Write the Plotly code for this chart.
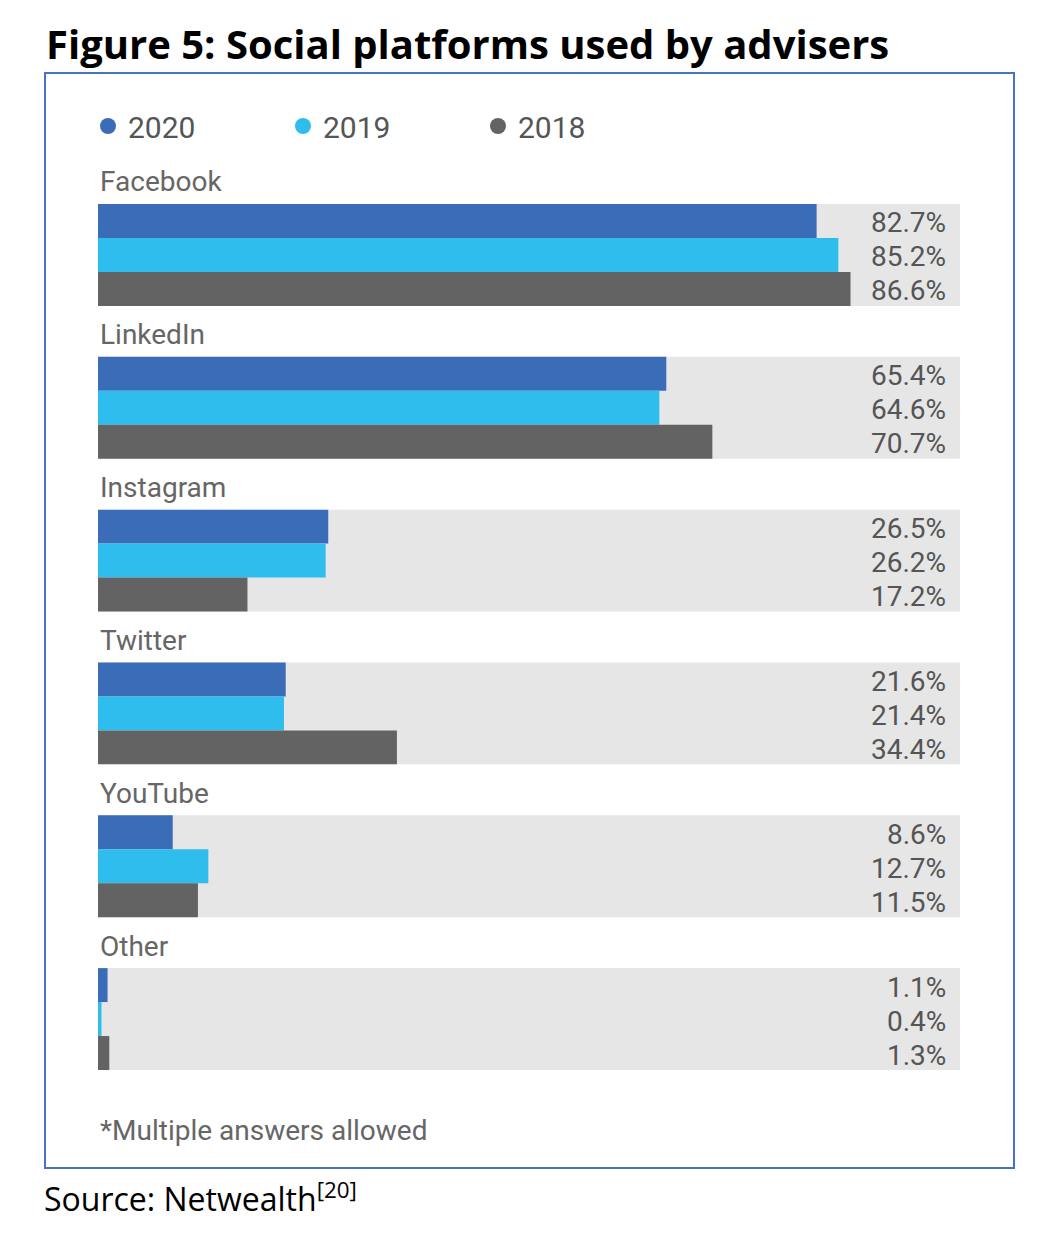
import plotly.graph_objects as go

platforms = ["Facebook", "LinkedIn", "Instagram", "Twitter", "YouTube", "Other"]
years = ["2020", "2019", "2018"]
v2020 = [82.7, 65.4, 26.5, 21.6, 8.6, 1.1]
v2019 = [85.2, 64.6, 26.2, 21.4, 12.7, 0.4]
v2018 = [86.6, 70.7, 17.2, 34.4, 11.5, 1.3]
colors = ["#3b6cb7", "#2fbdee", "#636363"]
series = [v2020, v2019, v2018]

W, H = 1049, 1245
OFF = 8  # page offset
L, R, T, B = 98 - OFF, 89 + OFF, 204 - OFF, 175 + OFF
PH = H - T - B
PW = W - L - R
GAP = 153
BAR = 34
XMAX = 99.2

fig = go.Figure()
fig.add_trace(go.Bar(orientation="h", x=[XMAX]*len(platforms),
                     y=[GAP*i + 1.5*BAR for i in range(len(platforms))],
                     width=3*BAR, marker=dict(color="#e6e6e6", line_width=0),
                     showlegend=False, hoverinfo="skip"))
for k, (yr, vals) in enumerate(zip(years, series)):
    fig.add_trace(go.Bar(orientation="h", x=vals,
                         y=[GAP*i + (k+0.5)*BAR for i in range(len(platforms))],
                         width=BAR, marker=dict(color=colors[k], line_width=0),
                         showlegend=False, name=yr))
    fig.add_trace(go.Scatter(x=[None], y=[None], mode="markers", name=yr,
                             marker=dict(color=colors[k], size=22, symbol="circle")))

def py(pix):
    # pix = reference page pixel
    return (H - B - (pix - OFF)) / PH

def px(pix):
    return (pix - OFF - L) / PW

ann = []
for i, p in enumerate(platforms):
    ann.append(dict(x=px(98), y=py(204 + GAP*i - 23), xref="paper", yref="paper", text=p,
                    showarrow=False, xanchor="left", yanchor="middle",
                    font=dict(size=28, color="#666")))
    for k, vals in enumerate(series):
        ann.append(dict(x=px(948), y=GAP*i + (k+0.5)*BAR + 2, xref="paper", yref="y",
                        text=f"{vals[i]}%", showarrow=False, xanchor="right", yanchor="middle",
                        font=dict(size=28, color="#555")))
ann.append(dict(x=px(44), y=py(43), xref="paper", yref="paper",
                text="<b>Figure 5: Social platforms used by advisers</b>", showarrow=False,
                xanchor="left", yanchor="middle", font=dict(size=40, color="black", family="Open Sans")))
ann.append(dict(x=px(98), y=py(1130), xref="paper", yref="paper", text="*Multiple answers allowed",
                showarrow=False, xanchor="left", yanchor="middle", font=dict(size=28, color="#666")))
ann.append(dict(x=px(42), y=py(1197), xref="paper", yref="paper",
                text="Source: Netwealth<sup>[20]</sup>", showarrow=False, xanchor="left",
                yanchor="middle", font=dict(size=32, color="black", family="Open Sans")))

fig.update_layout(
    width=W, height=H, margin=dict(l=L, r=R, t=T, b=B),
    paper_bgcolor="white", plot_bgcolor="white", barmode="overlay",
    font=dict(family="Roboto", color="#666"),
    xaxis=dict(range=[0, XMAX], visible=False, fixedrange=True),
    yaxis=dict(range=[GAP*5 + 3*BAR, 0], visible=False, fixedrange=True),
    legend=dict(orientation="h", x=px(88), y=py(126), xanchor="left", yanchor="middle",
                font=dict(size=30, color="#555"), itemwidth=30, entrywidth=150,
                tracegroupgap=0, bgcolor="rgba(0,0,0,0)"),
    annotations=ann,
    shapes=[dict(type="rect", xref="paper", yref="paper",
                 x0=px(45), x1=px(1014), y0=py(1168), y1=py(73),
                 line=dict(color="#4a72c4", width=2))],
)
fig.write_html("out.html")
